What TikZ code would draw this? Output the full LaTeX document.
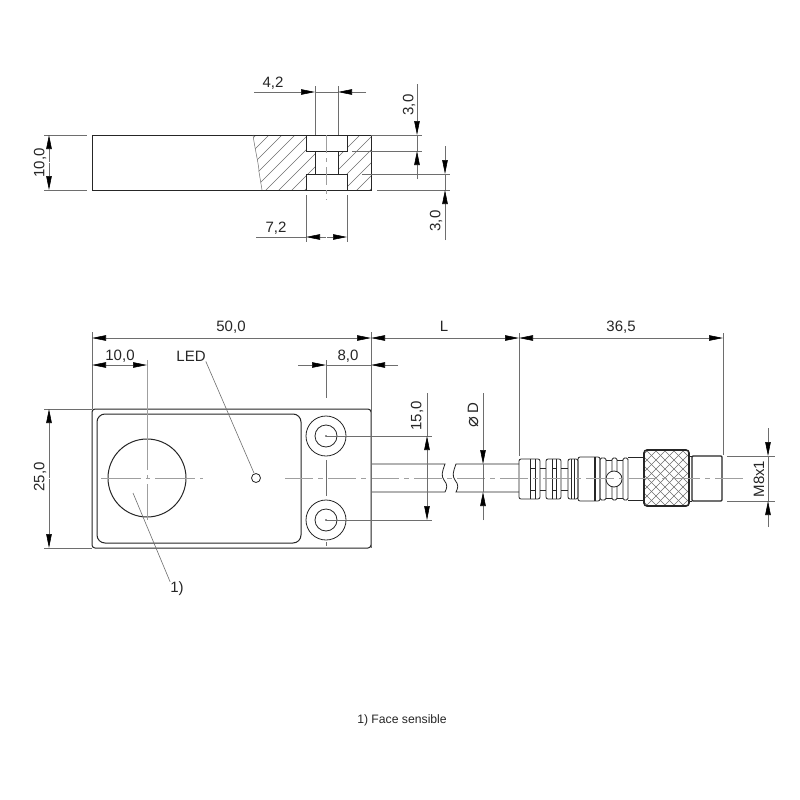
\documentclass[tikz,border=0pt]{standalone}
\usepackage{fontspec}
\setmainfont{Liberation Sans}
\newfontfamily\symfont{DejaVu Sans}
\usepackage{tikz}
\usetikzlibrary{arrows.meta, calc, positioning}
\definecolor{dimgray}{HTML}{6E6E6E}
\definecolor{inkgray}{HTML}{262626}
\tikzset{ x=1pt, y=-1pt, >={Triangle[length=14pt,width=5.5pt,black]},
  body/.style={draw=inkgray, line width=1pt},
  thick body/.style={draw=inkgray, line width=1.6pt},
  part/.style={draw=inkgray, line width=0.8pt},
  dimline/.style={draw=dimgray, line width=0.6pt},
  arrowline/.style={dimline, ->},
  center/.style={draw=gray!75, line width=0.7pt},
  hatch/.style={draw=dimgray, line width=0.5pt},
  dimtext/.style={text=inkgray, font=\fontsize{15}{15}\selectfont, inner sep=0pt},
  dimvert/.style={dimtext, rotate=90} }
\def\holeA{436}
\def\holeB{520}
\def\axisY{478}
\begin{document}
\begin{tikzpicture}
\useasboundingbox (0,0) rectangle (800,800);
\fill[white] (0,0) rectangle (800,800);
% section view
\begin{scope}
\clip (253,135) .. controls (255,150) and (259,165) .. (259,172) -- (262,190) -- (306,190) -- (306,174) -- (315,174) -- (315,151) -- (306,151) -- (306,135) -- cycle
      (347,135) -- (371,135) -- (371,190) -- (347,190) -- (347,174) -- (338,174) -- (338,151) -- (347,151) -- cycle;
\foreach \k in {196,209,...,371} \draw[hatch] (\k,195) -- +(65,-65);
\end{scope}
\draw[body] (92,135) rectangle (371,190);
\draw[hatch] (253,135) .. controls (255,150) and (259,165) .. (259,172) -- (262,190);
\draw[body] (306,135) rectangle (347,151);
\draw[body] (306,174) rectangle (347,190);
\draw[body] (315,151) -- (315,174) (338,151) -- (338,174);
\draw[center, dash pattern=on 18pt off 5pt on 4pt off 5pt] (326,135) -- (326,200);
% dimensions of the section
\draw[dimline] (315,86) -- (315,135) (338,86) -- (338,135);
\draw[dimline] (315,92) -- (338,92);
\draw[arrowline] (254,92) -- (315,92);
\draw[arrowline] (366,92) -- (338,92);
\node[dimtext] (d42) at (273,83) {4,2};
\draw[dimline] (371,135) -- (422,135) (352,151) -- (422,151) (362,174) -- (450,174) (377,190) -- (450,190);
\draw[dimline] (417,135) -- (417,151);
\draw[arrowline] (417,84) -- (417,135);
\draw[arrowline] (417,179) -- (417,151);
\node[dimvert] (d30a) at (409,105) {3,0};
\draw[dimline] (445,174) -- (445,190);
\draw[arrowline] (445,146) -- (445,174);
\draw[arrowline] (445,240) -- (445,190);
\node[dimvert] (d30b) at (436,221) {3,0};
\draw[dimline] (306,195) -- (306,242) (347,195) -- (347,242);
\draw[dimline] (256,237) -- (306,237);
\draw[arrowline] (326,237) -- (306,237);
\draw[arrowline] (327,237) -- (347,237);
\node[dimtext] (d72) at (276,228) {7,2};
\draw[dimline] (44,135) -- (87,135) (44,190) -- (87,190);
\draw[arrowline] (49,162) -- (49,135);
\draw[arrowline] (49,163) -- (49,190);
\node[dimvert] (d10) at (40,163) {10,0};
% front view
\draw[body, rounded corners=3pt] (92,409) rectangle (371,548);
\draw[body, rounded corners=8pt] (97,414) rectangle (301,543);
\draw[body] (147,\axisY) circle[radius=39];
\draw[part] (256,\axisY) circle[radius=4.5];
\foreach \y in {\holeA,\holeB} {
  \draw[part] (326,\y) circle[radius=20];
  \draw[part] (326,\y) circle[radius=11];
  \fill[inkgray] (326,\y) circle[radius=0.9];
}
\draw[center, dash pattern=on 40pt off 5pt on 4pt off 5pt] (101,\axisY) -- (203,\axisY);
\draw[center, dash pattern=on 110pt off 5pt on 4pt off 5pt] (147,360) -- (147,520);
\draw[dimline] (326,360) -- (326,398) (326,460) -- (326,496) (326,542) -- (326,546);
% cable with break
\draw[part] (371,464) -- (445,464) .. controls (442,472) and (441,476) .. (444,480) .. controls (448,485) and (447,488) .. (445,492) -- (371,492);
\draw[part] (519,464) -- (456,464) .. controls (453,472) and (452,476) .. (455,480) .. controls (459,485) and (458,488) .. (456,492) -- (519,492);
% connector, strain relief
\foreach \a/\b in {519/540,546/561,568/578}
  \draw[part, rounded corners=2pt] (\a,459) rectangle (\b,499);
\draw[part] (540,468) -- (546,468) (540,490) -- (546,490) (561,468) -- (568,468) (561,490) -- (568,490);
\foreach \a in {530,535,552,556,571,574}
  \draw[part] (\a,459) -- (\a,499);
\draw[part] (530,468) -- (535,468) (530,490) -- (535,490) (552,468) -- (556,468) (552,490) -- (556,490);
% connector, grip
\draw[part, rounded corners=2pt] (578,457) rectangle (600,501);
\draw[part, line width=1.2pt] (595,457) -- (595,501);
\foreach \a/\b in {600/606,612/617,623/628}
  \draw[part, rounded corners=1.5pt] (\a,458) rectangle (\b,500);
\draw[part] (606,460) -- (612,460) (606,498) -- (612,498) (617,460) -- (623,460) (617,498) -- (623,498);
\draw[part, fill=white] (614,479) circle[radius=8];
\draw[part] (628,457) -- (644,457) (628,500) -- (644,500);
% knurled nut
\begin{scope}
\clip[rounded corners=3pt] (644,450) rectangle (689,506);
\foreach \k in {590,599,...,750} {
  \draw[dimline] (\k,448) -- +(60,60);
  \draw[dimline] (\k,508) -- +(60,-60);
}
\end{scope}
\draw[thick body, rounded corners=3pt] (644,450) rectangle (689,506);
% thread
\draw[part] (689,456) -- (692,456) (689,501) -- (692,501);
\draw[part, line width=1.1pt, rounded corners=1pt] (692,456) rectangle (722,501);
\draw[center, dash pattern=on 28pt off 5pt on 5pt off 5pt] (285,\axisY) -- (744,\axisY);
% dimensions of the front view
\draw[dimline] (92,332) -- (92,409) (371,332) -- (371,548) (519,333) -- (519,456) (723,333) -- (723,455);
\draw[dimline] (44,409) -- (92,409) (44,548) -- (92,548);
\draw[arrowline] (231,338) -- (92,338);
\draw[arrowline] (231,338) -- (371,338);
\node[dimtext] (d50) at (231,327) {50,0};
\draw[arrowline] (445,338) -- (371,338);
\draw[arrowline] (445,338) -- (519,338);
\node[dimtext] (dL) at (444,326) {L};
\draw[arrowline] (621,338) -- (519,338);
\draw[arrowline] (621,338) -- (723,338);
\node[dimtext] (d365) at (621,327) {36,5};
\draw[arrowline] (120,365) -- (92,365);
\draw[arrowline] (120,365) -- (147,365);
\node[dimtext] (d10a) at (120,356) {10,0};
\draw[dimline] (326,365) -- (371,365);
\draw[arrowline] (298,365) -- (326,365);
\draw[arrowline] (398,365) -- (371,365);
\node[dimtext] (d80) at (348,356) {8,0};
\draw[arrowline] (49,478) -- (49,409);
\draw[arrowline] (49,479) -- (49,548);
\node[dimvert] (d25) at (40,477) {25,0};
\draw[dimline] (326,\holeA) -- (432,\holeA) (326,\holeB) -- (432,\holeB);
\draw[dimline] (427,393) -- (427,\holeA);
\draw[arrowline] (427,478) -- (427,\holeA);
\draw[arrowline] (427,478) -- (427,\holeB);
\node[dimvert] (d15) at (417,416) {15,0};
\draw[arrowline] (483,393) -- (483,464);
\draw[arrowline] (483,520) -- (483,492);
\draw[dimline] (483,464) -- (483,492);
\node[dimvert] (dD) at (473,415) {{\symfont\fontsize{18}{18}\selectfont ⌀}\,D};
\draw[dimline] (727,456) -- (775,456) (727,501) -- (775,501);
\draw[dimline] (768,456) -- (768,501);
\draw[arrowline] (768,428) -- (768,456);
\draw[arrowline] (768,527) -- (768,501);
\node[dimvert] (dM) at (759,479) {M8x1};
% leaders and note
\node[dimtext] (ledtext) at (191,356) {LED};
\coordinate (ledpt) at (254,473);
\draw[dimline] (ledtext.south east) -- (ledpt);
\node[dimtext] (facetext) at (177,589) {1)};
\coordinate (facept) at (133,493);
\draw[dimline] (facetext.north west) -- (facept);
\node[dimtext, font=\fontsize{12.2}{12.2}\selectfont] (note) at (402,720) {1) Face sensible};
\end{tikzpicture}
\end{document}
